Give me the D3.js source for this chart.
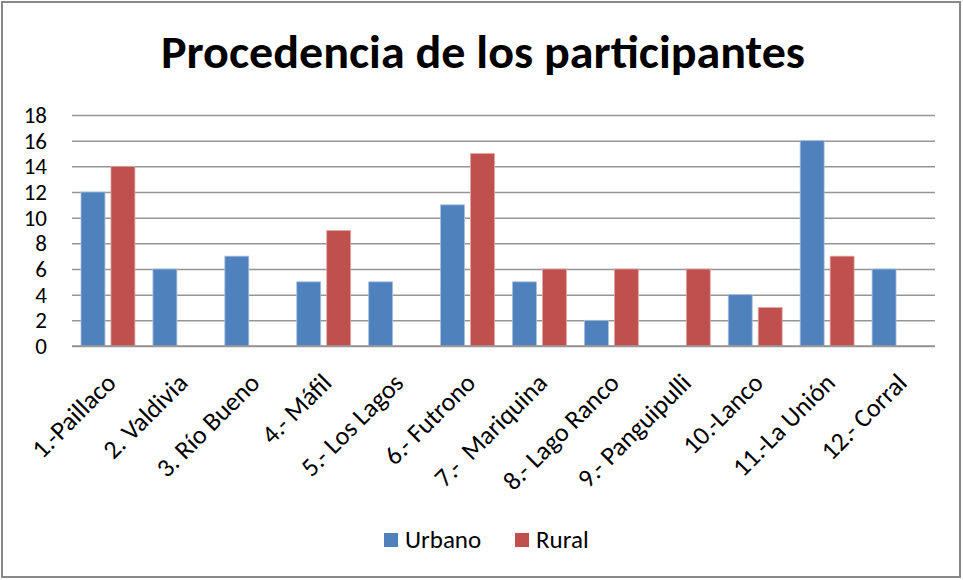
<!DOCTYPE html>
<html>
<head>
<meta charset="utf-8">
<script src="https://cdn.jsdelivr.net/npm/d3@7"></script>
<style>
  html, body { margin: 0; padding: 0; background: #fff; }
  svg { display: block; }
</style>
</head>
<body>
<svg id="chart" width="963" height="580"></svg>
<script>
const categories = ['1.-Paillaco', '2. Valdivia', '3. Río Bueno', '4.- Máfil', '5.- Los Lagos', '6.- Futrono',
  '7.-  Mariquina', '8.- Lago Ranco', '9.- Panguipulli', '10.-Lanco', '11.-La Unión', '12.- Corral'];
const urbano = [12, 6, 7, 5, 5, 11, 5, 2, 0, 4, 16, 6];
const rural = [14, 0, 0, 9, 0, 15, 6, 6, 6, 3, 7, 0];
const seriesNames = ['Urbano', 'Rural'];
const yTicks = [0, 2, 4, 6, 8, 10, 12, 14, 16, 18];

const colors = ['#4F81BD', '#C0504D'];
const font = 'Calibri, Carlito, "Liberation Sans", Arial, sans-serif';

const svg = d3.select('#chart');
const W = 963, H = 580;
const plot = {left: 72, right: 935, top: 115, bottom: 346};

// frame
svg.append('rect')
  .attr('x', 2).attr('y', 2)
  .attr('width', W - 5).attr('height', H - 5)
  .attr('fill', '#fff')
  .attr('stroke', '#888').attr('stroke-width', 2);

// title
svg.append('text')
  .attr('x', 483).attr('y', 68)
  .attr('text-anchor', 'middle')
  .attr('font-family', font)
  .attr('font-weight', 'bold')
  .attr('font-size', 46)
  .attr('textLength', 644)
  .attr('lengthAdjust', 'spacingAndGlyphs')
  .attr('fill', '#000')
  .text('Procedencia de los participantes');

const x = d3.scaleBand()
  .domain(categories)
  .range([plot.left, plot.right]);

const xs = d3.scaleBand()
  .domain(seriesNames)
  .range([9, x.bandwidth() - 9])
  .paddingInner(0.2);

const y = d3.scaleLinear()
  .domain([0, 18])
  .range([plot.bottom, plot.top]);

// gridlines + y labels
const yAxis = d3.axisLeft(y)
  .tickValues(yTicks)
  .tickSize(-(plot.right - plot.left))
  .tickPadding(25)
  .tickFormat(d3.format('d'));

const gy = svg.append('g')
  .attr('transform', `translate(${plot.left},0)`)
  .call(yAxis);
gy.select('.domain').remove();
gy.selectAll('.tick line')
  .attr('stroke', '#959595')
  .attr('stroke-width', 1.5);
gy.selectAll('.tick text')
  .attr('font-family', font)
  .attr('font-size', 23)
  .attr('fill', '#000');

// bars
const data = categories.map((c, i) => ({cat: c, values: [urbano[i], rural[i]]}));

const groups = svg.append('g').selectAll('g')
  .data(data)
  .enter()
  .append('g')
  .attr('transform', d => `translate(${x(d.cat)},0)`);

groups.selectAll('rect')
  .data(d => d.values.map((v, k) => ({series: seriesNames[k], value: v, k})))
  .enter()
  .filter(d => d.value > 0)
  .append('rect')
  .attr('x', d => xs(d.series))
  .attr('width', xs.bandwidth())
  .attr('y', d => y(d.value))
  .attr('height', d => y(0) - y(d.value))
  .attr('fill', d => colors[d.k])
  .attr('stroke', d => d.k === 0 ? '#a9c0e0' : '#e0a8a6')
  .attr('stroke-width', 0.8);

// x axis line
svg.append('line')
  .attr('x1', plot.left).attr('x2', plot.right)
  .attr('y1', y(0)).attr('y2', y(0))
  .attr('stroke', '#959595').attr('stroke-width', 1.5);

// x labels
svg.append('g').selectAll('text')
  .data(categories)
  .enter()
  .append('text')
  .attr('transform', d => `translate(${x(d) + x.bandwidth() / 2 + 3},${plot.bottom + 32}) rotate(-45)`)
  .attr('text-anchor', 'end')
  .attr('font-family', font)
  .attr('font-size', 26)
  .attr('fill', '#000')
  .attr('dy', '0.35em')
  .style('white-space', 'pre')
  .text(d => d);

// legend
const legendX = [384, 515];
const legend = svg.append('g').selectAll('g')
  .data(seriesNames)
  .enter()
  .append('g')
  .attr('transform', (d, i) => `translate(${legendX[i]},533)`);
legend.append('rect')
  .attr('width', 14).attr('height', 14)
  .attr('fill', (d, i) => colors[i]);
legend.append('text')
  .attr('x', 21).attr('y', 15)
  .attr('font-family', font)
  .attr('font-size', 25)
  .attr('fill', '#000')
  .text(d => d);
</script>
</body>
</html>
